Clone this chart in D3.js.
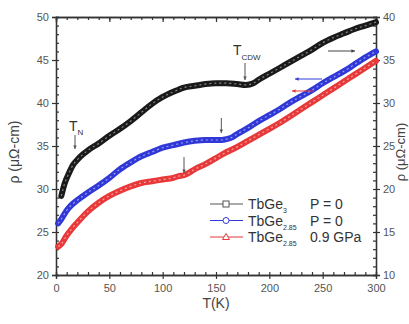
<!DOCTYPE html>
<html>
<head>
<meta charset="utf-8">
<script src="https://cdn.jsdelivr.net/npm/d3@7"></script>
<style>
  body { margin: 0; background: #fff; }
  svg { font-family: "Liberation Sans", Arial, sans-serif; }
</style>
</head>
<body>
<svg id="chart" width="409" height="324"></svg>
<script>
// TbGe3, P = 0 (right axis)
const tBlack = [5, 8, 12, 16, 20, 25, 30, 40, 50, 60, 70, 80, 90, 100, 110, 120, 130, 140, 150, 160, 170, 178, 185, 190, 200, 210, 220, 230, 240, 250, 260, 270, 280, 290, 300];
const rhoBlack = [19.2, 20.6, 21.8, 22.8, 23.4, 24.0, 24.5, 25.3, 26.2, 27.0, 27.9, 28.9, 29.9, 30.7, 31.3, 31.8, 32.0, 32.2, 32.3, 32.3, 32.2, 32.1, 32.3, 32.7, 33.4, 34.1, 34.8, 35.5, 36.2, 37.0, 37.6, 38.1, 38.6, 39.0, 39.4];

// TbGe2.85, P = 0 (left axis)
const tBlue = [2, 5, 10, 15, 20, 30, 40, 50, 60, 70, 80, 90, 100, 110, 120, 130, 140, 150, 155, 160, 165, 170, 180, 190, 200, 210, 220, 230, 240, 250, 260, 270, 280, 290, 300];
const rhoBlue = [26.0, 26.5, 27.5, 28.2, 28.7, 29.6, 30.4, 31.3, 32.3, 33.1, 33.8, 34.3, 34.8, 35.1, 35.4, 35.6, 35.7, 35.7, 35.7, 35.8, 36.0, 36.4, 37.1, 37.9, 38.6, 39.3, 40.1, 40.8, 41.5, 42.3, 43.0, 43.7, 44.5, 45.3, 46.0];

// TbGe2.85, 0.9 GPa (left axis)
const tRed = [2, 5, 10, 15, 20, 30, 40, 50, 60, 70, 80, 90, 100, 110, 115, 120, 125, 130, 140, 150, 160, 170, 180, 190, 200, 210, 220, 230, 240, 250, 260, 270, 280, 290, 300];
const rhoRed = [23.3, 23.6, 24.6, 25.4, 26.1, 27.4, 28.4, 29.2, 29.8, 30.3, 30.7, 30.9, 31.1, 31.3, 31.5, 31.6, 31.9, 32.3, 32.9, 33.6, 34.3, 34.9, 35.6, 36.3, 37.0, 37.7, 38.5, 39.3, 40.1, 40.9, 41.7, 42.5, 43.3, 44.1, 44.9];

const xTicks = [0, 50, 100, 150, 200, 250, 300];
const yLeftTicks = [20, 25, 30, 35, 40, 45, 50];
const yRightTicks = [10, 15, 20, 25, 30, 35, 40];

const svg = d3.select('#chart');
const x = d3.scaleLinear().domain([0, 300]).range([56, 376]);
const yL = d3.scaleLinear().domain([20, 50]).range([275, 17]);
const yR = d3.scaleLinear().domain([10, 40]).range([275, 17]);

const axisColor = '#333';
const labelColor = '#555';

function styleAxis(g, noText) {
  g.select('.domain').attr('stroke', axisColor).attr('stroke-width', 1.3);
  g.selectAll('.tick line').attr('stroke', axisColor).attr('stroke-width', 1.2);
  g.selectAll('.tick text').attr('fill', labelColor).style('font-size', '11px');
  if (noText) g.selectAll('.tick text').remove();
}

// minor ticks first
svg.append('g').attr('transform', 'translate(0,275)')
   .call(d3.axisBottom(x).tickValues(d3.range(0, 301, 10)).tickSize(-3).tickFormat(''))
   .call(g => styleAxis(g, true));
svg.append('g').attr('transform', 'translate(0,17)')
   .call(d3.axisTop(x).tickValues(d3.range(0, 301, 10)).tickSize(-3).tickFormat(''))
   .call(g => styleAxis(g, true));
svg.append('g').attr('transform', 'translate(56,0)')
   .call(d3.axisLeft(yL).tickValues(d3.range(20, 51, 1)).tickSize(-3).tickFormat(''))
   .call(g => styleAxis(g, true));
svg.append('g').attr('transform', 'translate(376,0)')
   .call(d3.axisRight(yR).tickValues(d3.range(10, 41, 1)).tickSize(-3).tickFormat(''))
   .call(g => styleAxis(g, true));

// major ticks
svg.append('g').attr('transform', 'translate(0,275)')
   .call(d3.axisBottom(x).tickValues(xTicks).tickSize(4).tickPadding(5))
   .call(g => styleAxis(g));
svg.append('g').attr('transform', 'translate(0,17)')
   .call(d3.axisTop(x).tickValues(xTicks).tickSize(-5).tickFormat(''))
   .call(g => styleAxis(g, true));
svg.append('g').attr('transform', 'translate(56,0)')
   .call(d3.axisLeft(yL).tickValues(yLeftTicks).tickSize(4).tickPadding(3))
   .call(g => styleAxis(g));
svg.append('g').attr('transform', 'translate(376,0)')
   .call(d3.axisRight(yR).tickValues(yRightTicks).tickSize(4).tickPadding(3))
   .call(g => styleAxis(g));

// axis titles
svg.append('text')
   .attr('x', 216).attr('y', 308)
   .attr('text-anchor', 'middle')
   .style('font-size', '14px').attr('fill', '#444')
   .text('T(K)');
svg.append('text')
   .attr('transform', 'translate(19,152) rotate(-90)')
   .attr('text-anchor', 'middle')
   .style('font-size', '14px').attr('fill', '#444')
   .text('ρ (μΩ-cm)');
svg.append('text')
   .attr('transform', 'translate(405,152) rotate(-90)')
   .attr('text-anchor', 'middle')
   .style('font-size', '13px').attr('fill', '#444')
   .text('ρ (μΩ-cm)');

// curves
const series = [
  { t: tRed, v: rhoRed, y: yL, color: '#e8393a', light: '#f7a0a0' },
  { t: tBlue, v: rhoBlue, y: yL, color: '#3038d8', light: '#9aa0f0' },
  { t: tBlack, v: rhoBlack, y: yR, color: '#1a1a1a', light: '#888' }
];

series.forEach(s => {
  const pts = s.t.map((t, i) => [t, s.v[i]]);
  const line = d3.line().x(d => x(d[0])).y(d => s.y(d[1])).curve(d3.curveMonotoneX);
  svg.append('path').datum(pts)
     .attr('fill', 'none').attr('stroke', s.color)
     .attr('stroke-width', 6).attr('stroke-linecap', 'round')
     .attr('d', line);
  svg.append('path').datum(pts)
     .attr('fill', 'none').attr('stroke', s.light)
     .attr('stroke-width', 1.2).attr('stroke-dasharray', '2,3')
     .attr('d', line);
});

// annotations
function arrow(x1, y1, x2, y2, color) {
  svg.append('line').attr('x1', x1).attr('y1', y1).attr('x2', x2).attr('y2', y2)
     .attr('stroke', color).attr('stroke-width', 1);
  const ang = Math.atan2(y2 - y1, x2 - x1);
  const h = 4;
  const p1 = [x2 - h * Math.cos(ang - 0.45), y2 - h * Math.sin(ang - 0.45)];
  const p2 = [x2 - h * Math.cos(ang + 0.45), y2 - h * Math.sin(ang + 0.45)];
  svg.append('path').attr('d', `M${x2},${y2}L${p1[0]},${p1[1]}L${p2[0]},${p2[1]}Z`).attr('fill', color);
}

const tn = svg.append('text').attr('x', 69).attr('y', 131).style('font-size', '14px').attr('fill', '#333');
tn.append('tspan').text('T');
tn.append('tspan').attr('dy', 4).style('font-size', '8px').text('N');
arrow(75, 135, 75, 149, '#555');

const tc = svg.append('text').attr('x', 233).attr('y', 55).style('font-size', '14px').attr('fill', '#333');
tc.append('tspan').text('T');
tc.append('tspan').attr('dy', 5).style('font-size', '8px').text('CDW');
arrow(245, 63, 245, 80, '#555');

arrow(x(155), 118, x(155), 133, '#555');
arrow(x(120), 157, x(120), 173, '#555');

arrow(328, 51, 355, 51, '#444');
arrow(322, 79, 295, 79, '#3038d8');
arrow(314, 91, 292, 91, '#e8393a');

// legend
const legendRows = [
  { sub: '3', cond: 'P = 0', color: '#555', marker: 'sq' },
  { sub: '2.85', cond: 'P = 0', color: '#3038d8', marker: 'circ' },
  { sub: '2.85', cond: '0.9 GPa', color: '#e8393a', marker: 'tri' }
];
legendRows.forEach((r, i) => {
  const y = 204 + i * 16.5;
  svg.append('line').attr('x1', 210).attr('x2', 243).attr('y1', y).attr('y2', y)
     .attr('stroke', r.color).attr('stroke-width', 1);
  if (r.marker === 'sq') {
    svg.append('rect').attr('x', 223).attr('y', y - 3).attr('width', 6).attr('height', 6)
       .attr('fill', '#fff').attr('stroke', r.color);
  } else if (r.marker === 'circ') {
    svg.append('circle').attr('cx', 226).attr('cy', y).attr('r', 3)
       .attr('fill', '#fff').attr('stroke', r.color);
  } else {
    svg.append('path').attr('d', `M226,${y - 3.5}L229.5,${y + 2.5}L222.5,${y + 2.5}Z`)
       .attr('fill', '#fff').attr('stroke', r.color);
  }
  const t = svg.append('text').attr('x', 248).attr('y', y + 5).style('font-size', '14px').attr('fill', '#333');
  t.append('tspan').text('TbGe');
  t.append('tspan').attr('dy', 4).style('font-size', '7px').text(r.sub);
  svg.append('text').attr('x', 310).attr('y', y + 5).style('font-size', '14px').attr('fill', '#333').text(r.cond);
});
</script>
</body>
</html>
